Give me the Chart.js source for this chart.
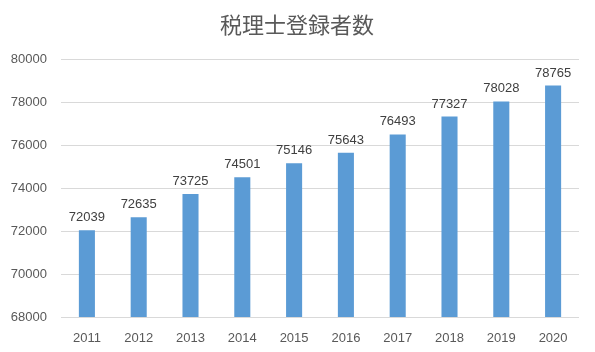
<!DOCTYPE html>
<html>
<head>
<meta charset="utf-8">
<script src="https://cdn.jsdelivr.net/npm/chart.js@4"></script>
<style>
  html, body { margin: 0; padding: 0; background: #fff; }
</style>
</head>
<body>
<canvas id="myChart" width="595" height="352"></canvas>
<script>
// データ
const years = ['2011', '2012', '2013', '2014', '2015', '2016', '2017', '2018', '2019', '2020'];
const registrants = [72039, 72635, 73725, 74501, 75146, 75643, 76493, 77327, 78028, 78765];
const yMin = 68000;
const yMax = 80000;
const yStep = 2000;

// 棒の上に値を表示
const valueLabels = {
  id: 'valueLabels',
  afterDatasetsDraw(chart) {
    const ctx = chart.ctx;
    const meta = chart.getDatasetMeta(0);
    ctx.save();
    ctx.font = '13px "Liberation Sans", Arial, sans-serif';
    ctx.fillStyle = '#404040';
    ctx.textAlign = 'center';
    ctx.textBaseline = 'bottom';
    meta.data.forEach((bar, i) => {
      ctx.fillText(registrants[i], bar.x, bar.y - 6);
    });
    ctx.restore();
  }
};

// タイトル
const titlePlugin = {
  id: 'titlePlugin',
  afterDraw(chart) {
    const ctx = chart.ctx;
    ctx.save();
    ctx.font = '22px "Noto Sans CJK JP", sans-serif';
    ctx.fillStyle = '#595959';
    ctx.textAlign = 'center';
    ctx.textBaseline = 'middle';
    ctx.fillText('税理士登録者数', 297, 25);
    ctx.restore();
  }
};

const ctx = document.getElementById('myChart').getContext('2d');
const myChart = new Chart(ctx, {
  type: 'bar',
  data: {
    labels: years,
    datasets: [{
      label: '税理士登録者数',
      data: registrants,
      backgroundColor: '#5b9bd5',
      barPercentage: 0.62,
      categoryPercentage: 0.5
    }]
  },
  options: {
    responsive: false,
    animation: false,
    layout: { padding: { top: 59, right: 16, bottom: 0, left: 0 } },
    plugins: {
      legend: { display: false },
      title: { display: false },
      tooltip: { enabled: false }
    },
    scales: {
      x: {
        grid: { display: false },
        border: { display: false },
        ticks: {
          color: '#595959',
          font: { family: '"Liberation Sans", Arial, sans-serif', size: 13 },
          padding: 6
        },
        afterFit(scale) { scale.height = 35; }
      },
      y: {
        min: yMin,
        max: yMax,
        grid: { color: '#d9d9d9', drawTicks: false },
        border: { display: false },
        ticks: {
          stepSize: yStep,
          color: '#595959',
          font: { family: '"Liberation Sans", Arial, sans-serif', size: 13 },
          padding: 14,
          callback: (v) => String(v)
        },
        afterFit(scale) { scale.width = 61; }
      }
    }
  },
  plugins: [valueLabels, titlePlugin]
});
</script>
</body>
</html>
